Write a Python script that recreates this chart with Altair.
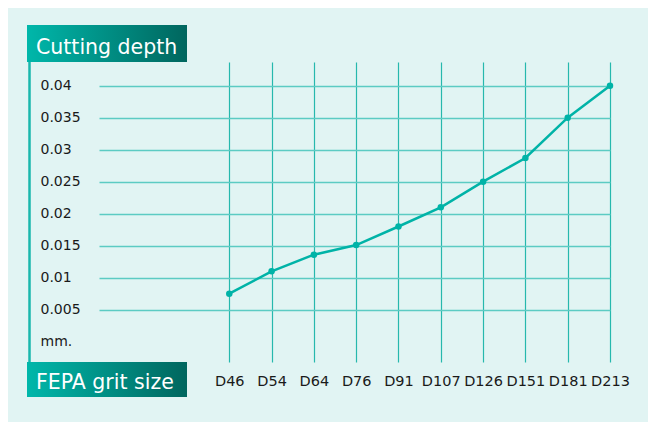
import altair as alt
import pandas as pd

grits = ["D46", "D54", "D64", "D76", "D91", "D107", "D126", "D151", "D181", "D213"]
depth = [0.0075, 0.011, 0.0136, 0.0151, 0.018, 0.021, 0.025, 0.0287, 0.035, 0.04]
y_ticks = [0, 0.005, 0.01, 0.015, 0.02, 0.025, 0.03, 0.035, 0.04]
y_domain = [-0.00317, 0.0437]
x_domain = [-3.08, 9]
y_title = "Cutting depth"
x_title = "FEPA grit size"
zero_label = "mm."

df = pd.DataFrame({"idx": list(range(len(grits))), "grit": grits, "depth": depth})

TEAL = "#00b3a7"
FONT = "DejaVu Sans"
BG = "#e1f4f3"
LABEL = "#1a1a1a"

grit_array = "[" + ",".join(f"'{g}'" for g in grits) + "]"

x = alt.X(
    "idx:Q",
    scale=alt.Scale(domain=x_domain, nice=False, zero=False),
    axis=alt.Axis(title=None, values=list(range(len(grits))), domain=False, ticks=False,
                  tickSize=0, labelPadding=12, labelAngle=0,
                  labelExpr=f"{grit_array}[datum.value]",
                  labelFont=FONT, labelFontSize=14.5, labelColor=LABEL,
                  labelOverlap=False, labelFlush=False,
                  grid=True, gridColor="#26b8ad", gridWidth=1.2),
)
y = alt.Y(
    "depth:Q",
    scale=alt.Scale(domain=y_domain, nice=False, zero=False),
    axis=alt.Axis(title=None, values=y_ticks, format="~g", domain=False, ticks=False, tickSize=0,
                  labelAlign="left", labelBaseline="middle", labelPadding=59,
                  labelExpr=f"datum.value == 0 ? '{zero_label}' : datum.label",
                  labelFont=FONT, labelFontSize=14, labelColor=LABEL,
                  labelOverlap=False, labelFlush=False,
                  grid=True, gridColor="#5ccbc3", gridWidth=1.6,
                  gridOpacity={"condition": {"test": "datum.value == 0", "value": 0}, "value": 1}),
)

base = alt.Chart(df)
line = base.mark_line(color=TEAL, strokeWidth=2.5).encode(x=x, y=y)
pts = base.mark_circle(color=TEAL, size=42, opacity=1).encode(x=x, y=y)

one = alt.Data(values=[{}])
grad = alt.LinearGradient(
    gradient="linear",
    stops=[alt.GradientStop(color="#00b7aa", offset=0), alt.GradientStop(color="#00665e", offset=1)],
    x1=0, x2=1, y1=0, y2=0,
)
bar = alt.Chart(one).mark_rule(color="#19b7ac", strokeWidth=2.5).encode(
    x=alt.value(-69.5), y=alt.value(0), y2=alt.value(300))
box_top = alt.Chart(one).mark_rect(fill=grad).encode(
    x=alt.value(-72), x2=alt.value(88), y=alt.value(-37), y2=alt.value(0))
box_bot = alt.Chart(one).mark_rect(fill=grad).encode(
    x=alt.value(-72), x2=alt.value(88), y=alt.value(300), y2=alt.value(335))
txt_top = alt.Chart(one).mark_text(align="left", baseline="alphabetic", color="white",
                                   font=FONT, fontSize=20.5).encode(
    x=alt.value(-63), y=alt.value(-7.7), text=alt.value(y_title))
txt_bot = alt.Chart(one).mark_text(align="left", baseline="alphabetic", color="white",
                                   font=FONT, fontSize=20.5).encode(
    x=alt.value(-63), y=alt.value(327.3), text=alt.value(x_title))

chart = alt.layer(line, pts, bar, box_top, box_bot, txt_top, txt_bot).properties(
    width=511, height=300,
    background=BG,
    padding={"left": 91, "top": 54, "right": 38, "bottom": 60},
    autosize=alt.AutoSizeParams(type="none"),
).configure_view(stroke=None)

chart.save("out.html", embed_options={"renderer": "svg", "actions": False})
